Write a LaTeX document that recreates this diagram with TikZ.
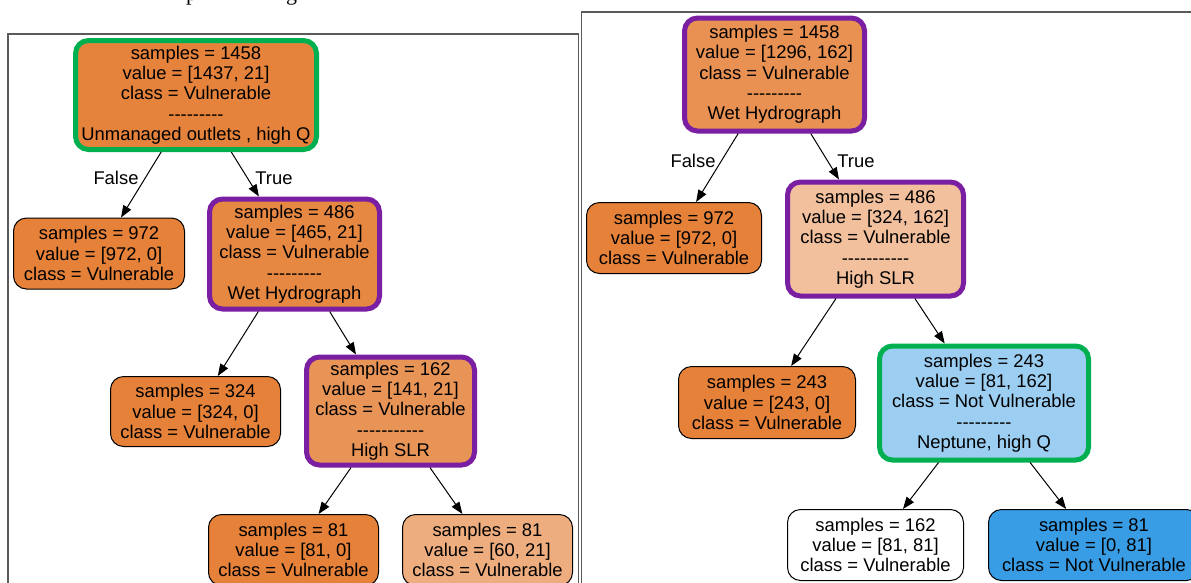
\documentclass[tikz,border=0pt]{standalone}
\usepackage{fontspec}
\setmainfont{Liberation Sans}
\newfontfamily\capserif{Liberation Serif}
\usetikzlibrary{arrows.meta}
\definecolor{corange}{HTML}{E58139}
\definecolor{cLa}{HTML}{E5833C}
\definecolor{cLb}{HTML}{E68742}
\definecolor{cLc}{HTML}{E99457}
\definecolor{cLd}{HTML}{EEAD7E}
\definecolor{cRa}{HTML}{E89152}
\definecolor{cRb}{HTML}{F2C09C}
\definecolor{cRc}{HTML}{9CCEF2}
\definecolor{cblue}{HTML}{399DE5}
\definecolor{bgreen}{HTML}{00B050}
\definecolor{bpurple}{HTML}{7A1FA2}
\definecolor{framegray}{HTML}{5A5A5A}
\newcommand\hh{-\kern0pt}
\begin{document}
\begin{tikzpicture}[x=1pt,y=-1pt,
  tnode/.style={rectangle, rounded corners=13pt, draw=black, line width=1pt,
    inner sep=0pt, align=center, text=black,
    font=\fontsize{18.4}{20.3}\selectfont},
  hlgreen/.style={draw=bgreen, line width=5pt},
  hlpurple/.style={draw=bpurple, line width=5pt},
  conn/.style={line width=1pt, draw=black, -{Triangle[length=12pt,width=9pt]}},
  lbl/.style={inner sep=0pt, font=\fontsize{18.4}{20.3}\selectfont},
  framebox/.style={draw=framegray, line width=1.2pt}
]
\useasboundingbox (0,0) rectangle (1191,582);
\clip (0,0) rectangle (1191,582);

% clipped caption fragments at the top edge
\node[anchor=base west, inner sep=0pt, font=\capserif\fontsize{22}{24}\selectfont] (capp) at (186,0.5) {p};
\node[anchor=base west, inner sep=0pt, font=\capserif\fontsize{22}{24}\selectfont] (capg) at (286,0.5) {g};

% frames
\draw[framebox] (8,600) -- (8,34) -- (578.5,34) -- (578.5,600);
\draw[framebox] (581.5,600) -- (581.5,12) -- (1200,12);

% left tree
\node[tnode, hlgreen, fill=cLa, minimum width=241pt, minimum height=109pt] (L0) at (196,95)
  {samples = 1458\\value = [1437, 21]\\class = Vulnerable\\\hh\hh\hh\hh\hh\hh\hh\hh\hh\\Unmanaged outlets , high Q};
\node[tnode, fill=corange, minimum width=171pt, minimum height=71pt] (L1) at (99,253.5)
  {samples = 972\\value = [972, 0]\\class = Vulnerable};
\node[tnode, hlpurple, fill=cLb, minimum width=170pt, minimum height=110pt] (L2) at (294.5,254)
  {samples = 486\\value = [465, 21]\\class = Vulnerable\\\hh\hh\hh\hh\hh\hh\hh\hh\hh\\Wet Hydrograph};
\node[tnode, fill=corange, minimum width=170pt, minimum height=70pt] (L3) at (195.5,411.5)
  {samples = 324\\value = [324, 0]\\class = Vulnerable};
\node[tnode, hlpurple, fill=cLc, minimum width=168pt, minimum height=108pt] (L4) at (390.5,411)
  {samples = 162\\value = [141, 21]\\class = Vulnerable\\\hh\hh\hh\hh\hh\hh\hh\hh\hh\hh\hh\\High SLR};
\node[tnode, fill=corange, minimum width=170pt, minimum height=71pt] (L5) at (293.5,550)
  {samples = 81\\value = [81, 0]\\class = Vulnerable};
\node[tnode, fill=cLd, minimum width=170pt, minimum height=71pt] (L6) at (487.5,550)
  {samples = 81\\value = [60, 21]\\class = Vulnerable};

\draw[conn] (L0) -- (L1);
\draw[conn] (L0) -- (L2);
\draw[conn] (L2) -- (L3);
\draw[conn] (L2) -- (L4);
\draw[conn] (L4) -- (L5);
\draw[conn] (L4) -- (L6);
\node[lbl] (fL) at (116,178) {False};
\node[lbl] (tL) at (274,178) {True};

% right tree
\node[tnode, hlpurple, fill=cRa, minimum width=180pt, minimum height=113pt] (R0) at (774.5,74.5)
  {samples = 1458\\value = [1296, 162]\\class = Vulnerable\\\hh\hh\hh\hh\hh\hh\hh\hh\hh\\Wet Hydrograph};
\node[tnode, fill=corange, minimum width=175pt, minimum height=71pt] (R1) at (674,238)
  {samples = 972\\value = [972, 0]\\class = Vulnerable};
\node[tnode, hlpurple, fill=cRb, minimum width=176pt, minimum height=114pt] (R2) at (875.5,239)
  {samples = 486\\value = [324, 162]\\class = Vulnerable\\\hh\hh\hh\hh\hh\hh\hh\hh\hh\hh\hh\\High SLR};
\node[tnode, fill=corange, minimum width=177pt, minimum height=72pt] (R3) at (767,402.5)
  {samples = 243\\value = [243, 0]\\class = Vulnerable};
\node[tnode, hlgreen, fill=cRc, minimum width=209pt, minimum height=114pt] (R4) at (984,403)
  {samples = 243\\value = [81, 162]\\class = Not Vulnerable\\\hh\hh\hh\hh\hh\hh\hh\hh\hh\\Neptune, high Q};
\node[tnode, fill=white, minimum width=176pt, minimum height=71pt] (R5) at (875.5,545)
  {samples = 162\\value = [81, 81]\\class = Vulnerable};
\node[tnode, fill=cblue, minimum width=211pt, minimum height=71pt] (R6) at (1094,545)
  {samples = 81\\value = [0, 81]\\class = Not Vulnerable};

\draw[conn] (R0) -- (R1);
\draw[conn] (R0) -- (R2);
\draw[conn] (R2) -- (R3);
\draw[conn] (R2) -- (R4);
\draw[conn] (R4) -- (R5);
\draw[conn] (R4) -- (R6);
\node[lbl] (fR) at (693,161) {False};
\node[lbl] (tR) at (856,161) {True};
\end{tikzpicture}
\end{document}
